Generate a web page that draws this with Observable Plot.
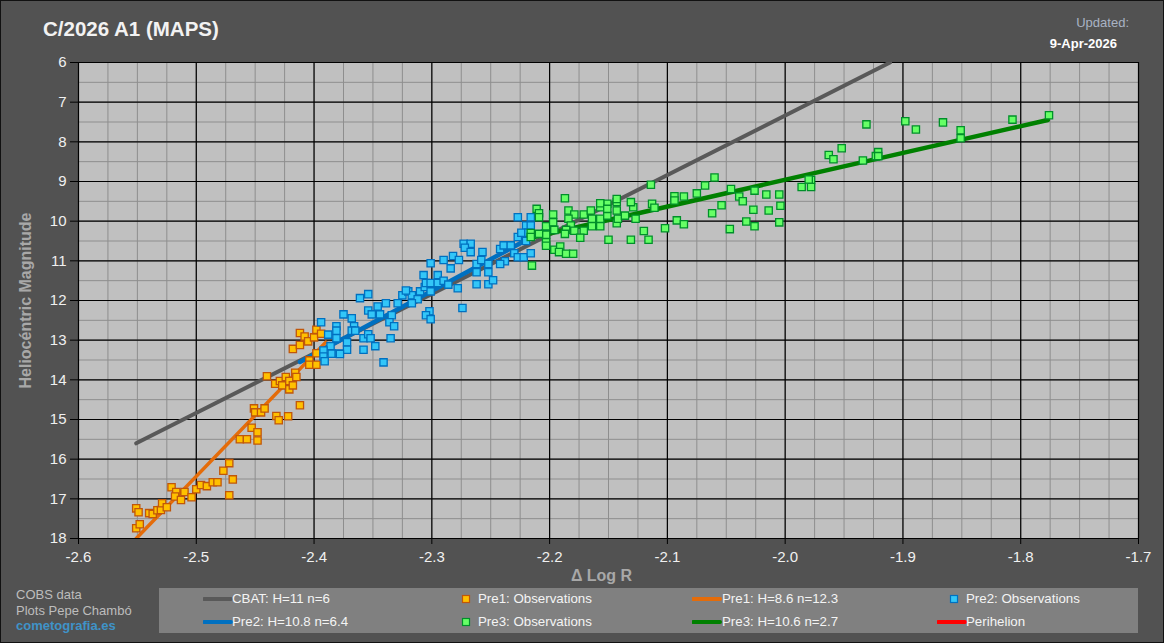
<!DOCTYPE html>
<html>
<head>
<meta charset="utf-8">
<script src="https://cdn.jsdelivr.net/npm/d3@7"></script>
<script src="https://cdn.jsdelivr.net/npm/@observablehq/plot@0.6"></script>
<style>
  html, body { margin: 0; padding: 0; background: #525252; }
  #wrap { position: relative; width: 1164px; height: 643px; background: #525252; overflow: hidden;
          font-family: "Liberation Sans", Arial, sans-serif; box-shadow: inset 0 0 0 1px #111; }
  .abs { position: absolute; white-space: nowrap; }
  #header { position: absolute; left: 0; top: 0; width: 1164px; height: 50px; }
  #chart { position: absolute; left: 0; top: 50px; width: 1164px; height: 535px; }
  #footer { position: absolute; left: 0; top: 585px; width: 1164px; height: 58px; }
  .t13 { font-size: 13px; line-height: 13px; }
  .leg { position: absolute; left: 159px; top: 3px; width: 979px; height: 45px; background: #808080; }
  .item { position: absolute; height: 14px; font-size: 13.3px; line-height: 14px; color: #f4f4f4; white-space: nowrap; }
  .item svg { position: absolute; left: 0; top: 0; }
  .item span { position: absolute; top: 0; }
</style>
</head>
<body>
<div id="wrap">
  <div id="header">
    <div class="abs" style="left:43px; top:19px; font-size:20.5px; line-height:20.5px; font-weight:bold; color:#f2f2f2;">C/2026 A1 (MAPS)</div>
    <div class="abs t13" style="right:35px; top:15.6px; color:#a9b3c4;">Updated:</div>
    <div class="abs t13" style="right:47px; top:37.4px; color:#ffffff; font-weight:bold;">9-Apr-2026</div>
  </div>
  <div id="chart"></div>
  <div id="footer"></div>
</div>
<script>
// ---------- data ----------
const xTicks = [-2.6, -2.5, -2.4, -2.3, -2.2, -2.1, -2.0, -1.9, -1.8, -1.7];
const yTicks = [6, 7, 8, 9, 10, 11, 12, 13, 14, 15, 16, 17, 18];

// fitted lines (Δ log R, heliocentric magnitude) end points
const cbatLogR = [-2.551, -1.911];
const cbatMag  = [15.60, 6.00];
const pre1LineLogR = [-2.551, -2.390];
const pre1LineMag  = [18.00, 13.05];
const pre2LineLogR = [-2.412, -2.200];
const pre2LineMag  = [13.55, 10.16];
const pre3LineLogR = [-2.218, -1.777];
const pre3LineMag  = [10.43, 7.45];

// Pre1 observations
const pre1LogR = [-2.551,-2.549,-2.551,-2.548,-2.540,-2.537,-2.533,-2.530,-2.529,-2.525,
  -2.521,-2.517,-2.518,-2.513,-2.510,-2.504,-2.500,-2.496,-2.491,-2.486,-2.482,
  -2.477,-2.472,-2.469,-2.472,-2.463,-2.457,-2.453,-2.448,-2.448,-2.451,-2.450,-2.445,-2.442,
  -2.432,-2.430,-2.422,-2.412,-2.440,-2.433,-2.429,-2.427,-2.424,-2.421,-2.421,-2.418,-2.416,-2.415,
  -2.404,-2.404,-2.398,-2.398,-2.418,-2.412,-2.412,-2.408,-2.405,-2.400,-2.398,-2.394];
const pre1Mag = [17.24,17.34,17.74,17.64,17.36,17.38,17.29,17.28,17.11,17.21,
  16.71,16.83,16.94,17.03,16.83,16.96,16.76,16.65,16.68,16.58,16.58,
  16.29,16.10,16.51,16.91,15.50,15.50,15.21,15.32,15.53,14.72,14.82,14.82,14.72,
  14.91,15.02,14.92,14.64,13.91,14.10,14.03,14.14,13.93,14.24,14.03,14.14,13.82,13.93,
  13.51,13.62,13.62,13.33,13.22,13.12,12.82,12.91,13.03,12.93,12.74,12.84];

// Pre2 observations
const pre2LogR = [-2.394,-2.388,-2.381,-2.381,-2.381,-2.386,-2.392,-2.392,-2.391,-2.385,-2.379,
  -2.375,-2.368,-2.366,-2.368,-2.365,-2.372,-2.372,-2.378,
  -2.361,-2.354,-2.354,-2.351,-2.346,-2.344,-2.339,-2.334,-2.336,-2.332,-2.358,-2.354,-2.352,-2.348,-2.358,-2.335,-2.341,
  -2.329,-2.325,-2.320,-2.317,-2.312,-2.310,-2.306,-2.301,-2.305,-2.301,-2.295,-2.307,-2.295,-2.290,-2.286,
  -2.301,-2.290,-2.282,-2.277,-2.284,-2.302,-2.305,-2.301,-2.274,-2.278,
  -2.273,-2.267,-2.272,-2.267,-2.257,-2.262,-2.258,-2.252,-2.262,-2.252,-2.262,-2.252,-2.248,
  -2.242,-2.239,-2.233,-2.230,-2.227,-2.227,-2.238,-2.242,-2.222,
  -2.227,-2.216,-2.220,-2.216,-2.220,-2.216,-2.224,-2.218,-2.322,-2.317];
const pre2Mag = [12.55,12.86,12.65,12.76,12.95,13.15,13.26,13.41,13.53,13.34,13.34,
  12.35,12.45,12.65,12.76,12.76,13.05,13.24,13.35,
  11.94,11.84,12.25,12.35,12.15,12.35,12.07,12.37,12.55,12.65,12.95,12.85,12.95,13.15,13.24,12.95,13.56,
  12.07,11.87,11.77,11.87,11.97,11.77,11.66,11.77,11.56,11.56,11.56,11.36,11.36,11.50,11.60,
  11.06,10.98,10.88,10.98,11.19,12.27,12.37,12.47,12.19,11.69,
  10.57,10.57,10.67,10.78,10.78,11.08,10.98,11.08,11.29,11.29,11.59,11.59,11.49,
  10.70,10.61,10.61,10.81,10.40,10.91,11.01,11.08,10.91,
  9.90,9.90,10.11,10.11,10.50,10.81,10.29,10.29,11.75,12.07];

// Pre3 observations
const pre3LogR = [-2.211,-2.209,-2.209,-2.203,-2.197,-2.197,-2.196,-2.203,-2.216,-2.216,-2.209,-2.203,-2.203,
  -2.196,-2.191,-2.192,-2.186,-2.180,-2.215,-2.184,-2.179,-2.184,-2.182,-2.186,-2.179,-2.171,-2.165,
  -2.164,-2.164,-2.171,-2.174,-2.157,-2.157,-2.157,-2.151,-2.151,-2.150,-2.143,-2.143,-2.142,-2.136,
  -2.127,-2.131,-2.120,-2.116,-2.129,-2.143,-2.131,
  -2.187,-2.187,-2.157,-2.151,-2.143,-2.114,-2.113,-2.111,-2.102,-2.094,-2.094,-2.092,-2.086,-2.086,
  -2.075,-2.068,-2.060,-2.062,-2.054,-2.047,-2.046,-2.039,-2.036,-2.033,-2.027,-2.026,-2.026,-2.016,
  -2.014,-2.005,-2.004,-2.005,-1.986,-1.978,-1.978,-1.980,-1.963,-1.959,-1.952,-1.934,-1.931,-1.923,
  -1.921,-1.921,-1.898,-1.889,-1.866,-1.851,-1.851,-1.807,-1.776];
const pre3Mag = [9.69,9.80,9.90,10.13,9.83,10.03,10.22,10.34,10.30,10.40,10.32,10.53,10.62,
  10.72,10.64,10.78,10.82,10.82,11.12,9.73,9.83,9.94,10.11,10.22,10.24,9.83,9.73,
  9.94,10.13,10.24,10.42,9.65,9.94,10.13,9.56,9.86,10.47,9.73,10.05,9.94,9.86,
  9.94,10.47,10.25,10.47,9.65,9.52,9.52,
  9.42,10.32,9.55,9.69,9.44,9.08,9.56,9.66,10.18,9.37,9.48,9.98,9.38,10.08,
  9.30,9.10,8.90,9.80,9.60,10.20,9.19,9.38,9.50,10.01,9.71,9.23,10.13,9.33,
  9.73,9.33,9.61,10.03,9.14,8.96,9.14,8.95,8.33,8.44,8.16,8.47,7.56,8.36,
  8.26,8.36,7.48,7.69,7.51,7.71,7.91,7.44,7.33];

// legend entries
const legendLabels = ["CBAT: H=11 n=6", "Pre1: Observations", "Pre1: H=8.6 n=12.3", "Pre2: Observations",
                      "Pre2: H=10.8 n=6.4", "Pre3: Observations", "Pre3: H=10.6 n=2.7", "Perihelion"];
const credits = ["COBS data", "Plots Pepe Chambó", "cometografia.es"];

// ---------- styles ----------
const C = {
  cbat: "#595959", pre1Line: "#e46c0a", pre2Line: "#0070c0", pre3Line: "#008000", peri: "#ff0000",
  pre1Fill: "#ffc000", pre1Stroke: "#c0560a",
  pre2Fill: "#33c6f8", pre2Stroke: "#0070c0",
  pre3Fill: "#66ff66", pre3Stroke: "#00902a"
};
const font = "'Liberation Sans', Arial, sans-serif";

const minorX = d3.range(0, 37).map(i => -2.6 + i * 0.025);
const minorY = d3.range(0, 25).map(i => 6 + i * 0.5);

const dotOpts = (x, y, fill, stroke) => Plot.dot(x, {x, y, symbol: "square", r: 4.1, fill, stroke, strokeWidth: 1.3});
const lineOpts = (x, y, stroke, w) => Plot.line(x, {x, y, stroke, strokeWidth: w, clip: true});

const chart = Plot.plot({
  width: 1164, height: 535,
  marginLeft: 78, marginRight: 26, marginTop: 12, marginBottom: 47,
  style: {background: "transparent", fontFamily: font, fontSize: "15px", color: "#f0f0f0", overflow: "visible"},
  x: {domain: [-2.6, -1.7]},
  y: {domain: [6, 18], reverse: true},
  marks: [
    Plot.frame({fill: "#c0c0c0", stroke: null}),
    Plot.gridX(minorX, {stroke: "#8e8e8e", strokeOpacity: 1, strokeWidth: 1}),
    Plot.gridY(minorY, {stroke: "#8e8e8e", strokeOpacity: 1, strokeWidth: 1}),
    Plot.gridX(xTicks, {stroke: "#000", strokeOpacity: 1, strokeWidth: 1.2}),
    Plot.gridY(yTicks, {stroke: "#000", strokeOpacity: 1, strokeWidth: 1.2}),
    Plot.axisX(xTicks, {tickFormat: d => d.toFixed(1), tickSize: 6, tickPadding: 7, stroke: "#000", fill: "#f0f0f0", fontSize: 15, label: null}),
    Plot.axisY(yTicks, {tickFormat: d => String(d), tickSize: 8, tickPadding: 4, stroke: "#000", fill: "#f0f0f0", fontSize: 15, label: null}),
    lineOpts(cbatLogR, cbatMag, C.cbat, 4),
    lineOpts(pre1LineLogR, pre1LineMag, C.pre1Line, 3.5),
    lineOpts(pre2LineLogR, pre2LineMag, C.pre2Line, 4.5),
    lineOpts(pre3LineLogR, pre3LineMag, C.pre3Line, 4.5),
    dotOpts(pre1LogR, pre1Mag, C.pre1Fill, C.pre1Stroke),
    dotOpts(pre2LogR, pre2Mag, C.pre2Fill, C.pre2Stroke),
    dotOpts(pre3LogR, pre3Mag, C.pre3Fill, C.pre3Stroke),
    Plot.text(["Heliocéntric Magnitude"], {frameAnchor: "left", text: d => d, rotate: -90, dx: -53,
      fontWeight: "bold", fontSize: 16, fill: "#a8a8a8", textAnchor: "middle", lineAnchor: "middle"}),
    Plot.text(["Δ Log R"], {frameAnchor: "bottom", text: d => d, dx: -7, dy: 37,
      fontWeight: "bold", fontSize: 16, fill: "#a8a8a8", textAnchor: "middle", lineAnchor: "middle"})
  ]
});
document.getElementById("chart").appendChild(chart);

// ---------- footer: credits + legend ----------
const footer = document.getElementById("footer");
const creditStyles = [
  {top: 2.6, color: "#bdbdbd", weight: "normal"},
  {top: 18.6, color: "#bdbdbd", weight: "normal"},
  {top: 33.6, color: "#3f93c8", weight: "bold"}
];
credits.forEach((t, i) => {
  const d = document.createElement("div");
  d.className = "abs t13";
  d.style.left = "16px"; d.style.top = creditStyles[i].top + "px";
  d.style.color = creditStyles[i].color; d.style.fontWeight = creditStyles[i].weight;
  d.textContent = t;
  footer.appendChild(d);
});
const leg = document.createElement("div");
leg.className = "leg";
footer.appendChild(leg);

// key kinds: line or square, with colours
const keys = [
  {kind: "line", c: C.cbat}, {kind: "sq", f: C.pre1Fill, s: C.pre1Stroke},
  {kind: "line", c: C.pre1Line}, {kind: "sq", f: C.pre2Fill, s: C.pre2Stroke},
  {kind: "line", c: C.pre2Line}, {kind: "sq", f: C.pre3Fill, s: C.pre3Stroke},
  {kind: "line", c: C.pre3Line}, {kind: "line", c: C.peri, peri: true}
];
// column origins (relative to legend box left=159)
const colLine = [44, 0, 533, 0];
const colSq = [0, 302, 0, 790];
const colText = [73, 319, 563, 807];
keys.forEach((k, i) => {
  const col = i % 4, row = Math.floor(i / 4);
  const top = row === 0 ? 4 : 27;
  const it = document.createElement("div");
  it.className = "item";
  let x0, svg;
  if (k.kind === "line") {
    x0 = k.peri ? 778 : colLine[col];
    svg = `<svg width="30" height="14"><line x1="1" y1="7" x2="28" y2="7" stroke="${k.c}" stroke-width="4" stroke-linecap="round"/></svg>`;
  } else {
    x0 = colSq[col];
    svg = `<svg width="10" height="14"><rect x="1.5" y="3.5" width="7" height="7" fill="${k.f}" stroke="${k.s}" stroke-width="1.2"/></svg>`;
  }
  it.style.left = x0 + "px"; it.style.top = top + "px"; it.style.width = "200px";
  it.innerHTML = svg + `<span style="left:${colText[col] - x0}px">${legendLabels[i]}</span>`;
  leg.appendChild(it);
});
</script>
</body>
</html>
